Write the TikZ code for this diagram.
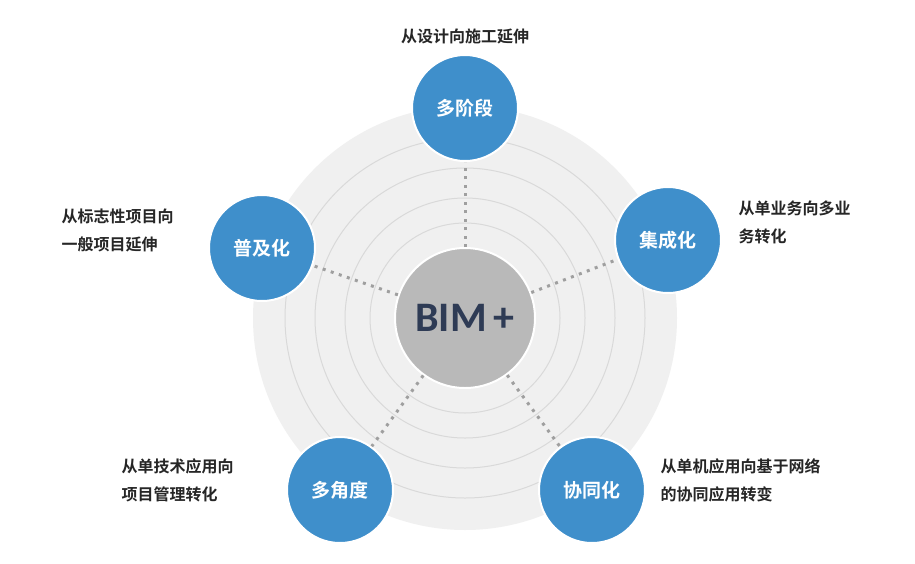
\documentclass[tikz,border=0pt]{standalone}
\usepackage{fontspec}
\setmainfont{Noto Sans CJK SC}
\newfontfamily\cjkb{Noto Sans CJK SC Bold}
\newfontfamily\carl{Carlito}
\begin{document}
\begin{tikzpicture}[x=1pt,y=-1pt,
  blue/.style={circle,fill=bluec,minimum size=106pt,inner sep=0pt,text=white,font=\cjkb\fontsize{19}{19}\selectfont,draw=white,line width=2pt},
  lab/.style={font=\cjkb\fontsize{16}{28}\selectfont,align=left,anchor=west,text=black!85},
  dots/.style={draw=gray!75,line width=3pt,dash pattern=on 3pt off 5.5pt}]
\definecolor{bluec}{HTML}{3F8FCB}
\definecolor{navy}{HTML}{2E3B55}
\useasboundingbox (0,0) rectangle (915,563);
\fill[white] (0,0) rectangle (915,563);
\fill[gray!12] (465,318) circle (212);
\foreach \r in {180,150,120,95}{\draw[gray!30,line width=1pt] (465,318) circle (\r);}
\node[circle,fill=gray!55,minimum size=140pt,inner sep=0pt,draw=white,line width=2pt,text=navy,font=\carl\bfseries\fontsize{42}{42}\selectfont] (c) at (465,318) {BIM\,+};
\node[blue] (t) at (465,108) {多阶段};
\node[blue] (r) at (668,240) {集成化};
\node[blue] (l) at (262,248) {普及化};
\node[blue] (bl) at (340,490) {多角度};
\node[blue] (br) at (592,490) {协同化};
\foreach \n in {t,r,l,bl,br}{\draw[dots] (c) -- (\n);}
\node[font=\cjkb\fontsize{16}{16}\selectfont,text=black!85] (tt) at (465,36) {从设计向施工延伸};
\node[lab] (rt) at (735,222) {从单业务向多业\\务转化};
\node[lab] (lt) at (58,230) {从标志性项目向\\一般项目延伸};
\node[lab] (blt) at (118,480) {从单技术应用向\\项目管理转化};
\node[lab] (brt) at (657,480) {从单机应用向基于网络\\的协同应用转变};
\end{tikzpicture}
\end{document}
